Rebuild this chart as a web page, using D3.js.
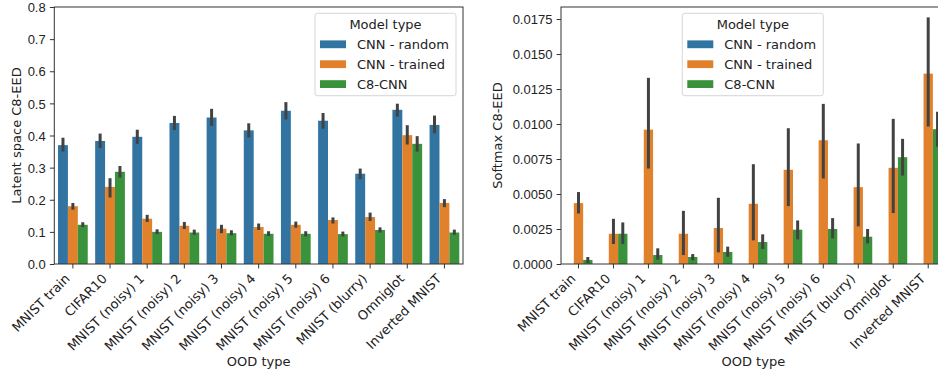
<!DOCTYPE html>
<html>
<head>
<meta charset="utf-8">
<script src="https://cdn.jsdelivr.net/npm/d3@7"></script>
<style>
  body { margin: 0; background: #fff; }
  svg { display: block; font-family: "DejaVu Sans", sans-serif; }
  .tick text { font-size: 13px; fill: #222; }
</style>
</head>
<body>
<svg id="chart" width="938" height="377"></svg>
<script>
// categories and hue levels
const categories = ["MNIST train", "CIFAR10", "MNIST (noisy) 1", "MNIST (noisy) 2", "MNIST (noisy) 3",
  "MNIST (noisy) 4", "MNIST (noisy) 5", "MNIST (noisy) 6", "MNIST (blurry)", "Omniglot", "Inverted MNIST"];
const models = ["CNN - random", "CNN - trained", "C8-CNN"];
const colors = ["#3274a1", "#e1812c", "#3a923a"];

// latent space C8-EED (means + CI)
const latentRandom = [0.370, 0.383, 0.396, 0.439, 0.456, 0.416, 0.477, 0.446, 0.281, 0.480, 0.433];
const latentRandomCI = [[0.350, 0.393], [0.361, 0.406], [0.374, 0.418], [0.417, 0.461], [0.430, 0.483],
  [0.394, 0.438], [0.450, 0.504], [0.421, 0.470], [0.264, 0.297], [0.459, 0.499], [0.407, 0.462]];
const latentTrained = [0.180, 0.240, 0.141, 0.119, 0.110, 0.115, 0.122, 0.137, 0.146, 0.401, 0.190];
const latentTrainedCI = [[0.169, 0.190], [0.207, 0.267], [0.131, 0.153], [0.109, 0.131], [0.096, 0.122],
  [0.106, 0.126], [0.113, 0.132], [0.126, 0.145], [0.134, 0.160], [0.372, 0.432], [0.177, 0.202]];
const latentC8 = [0.122, 0.287, 0.100, 0.098, 0.096, 0.094, 0.094, 0.093, 0.106, 0.374, 0.098];
const latentC8CI = [[0.115, 0.130], [0.269, 0.305], [0.093, 0.108], [0.091, 0.107], [0.089, 0.105],
  [0.087, 0.102], [0.086, 0.102], [0.086, 0.101], [0.098, 0.114], [0.350, 0.398], [0.091, 0.107]];

// softmax C8-EED (means + CI)
const softRandom = [0, 0, 0, 0, 0, 0, 0, 0, 0, 0, 0];
const softRandomCI = [[0, 0], [0, 0], [0, 0], [0, 0], [0, 0], [0, 0], [0, 0], [0, 0], [0, 0], [0, 0], [0, 0]];
const softTrained = [0.00435, 0.00216, 0.0096, 0.00216, 0.00257, 0.0043, 0.00673, 0.00884, 0.00549, 0.00687, 0.0136];
const softTrainedCI = [[0.00361, 0.00514], [0.00143, 0.00323], [0.00682, 0.0133], [0.00064, 0.0038],
  [0.00083, 0.00473], [0.00169, 0.00713], [0.00414, 0.0097], [0.00611, 0.01144], [0.00269, 0.00861],
  [0.00364, 0.01037], [0.00982, 0.01762]];
const softC8 = [0.00029, 0.00216, 0.00064, 0.0005, 0.00086, 0.00157, 0.00245, 0.0025, 0.00195, 0.00763, 0.00963];
const softC8CI = [[0.00007, 0.0005], [0.00143, 0.00297], [0.00031, 0.00112], [0.00026, 0.00071],
  [0.00052, 0.00124], [0.00107, 0.00212], [0.00176, 0.00311], [0.00183, 0.00328], [0.00147, 0.0025],
  [0.00632, 0.00894], [0.00837, 0.01087]];

const latentTicks = [0, 0.1, 0.2, 0.3, 0.4, 0.5, 0.6, 0.7, 0.8];
const softTicks = [0, 0.0025, 0.005, 0.0075, 0.01, 0.0125, 0.015, 0.0175];

function rows(means, cis) {
  // flatten into one row per bar
  const out = [];
  categories.forEach((c, i) => {
    models.forEach((m, j) => {
      out.push({ cat: c, model: m, j: j, v: means[j][i], lo: cis[j][i][0], hi: cis[j][i][1] });
    });
  });
  return out;
}

const svg = d3.select("#chart");

function panel(opts) {
  const g = svg.append("g");
  const x = d3.scaleBand().domain(categories).range([opts.left, opts.right]).padding(0);
  const bw = x.bandwidth();
  const hue = d3.scaleBand().domain(models).range([0.1 * bw, 0.9 * bw]).padding(0);
  const y = d3.scaleLinear().domain(opts.domain).range([opts.bottom, opts.top]);

  const data = rows(opts.means, opts.cis);

  g.selectAll(".bar")
    .data(data)
    .join("rect")
    .attr("class", "bar")
    .attr("x", d => x(d.cat) + hue(d.model))
    .attr("width", hue.bandwidth())
    .attr("y", d => y(d.v))
    .attr("height", d => y(0) - y(d.v))
    .attr("fill", d => colors[d.j]);

  g.selectAll(".err")
    .data(data.filter(d => d.hi > d.lo))
    .join("line")
    .attr("class", "err")
    .attr("x1", d => x(d.cat) + hue(d.model) + hue.bandwidth() / 2)
    .attr("x2", d => x(d.cat) + hue(d.model) + hue.bandwidth() / 2)
    .attr("y1", d => y(d.lo))
    .attr("y2", d => y(d.hi))
    .attr("stroke", "#424242")
    .attr("stroke-width", 3);

  // y axis
  const yAxis = d3.axisLeft(y).tickValues(opts.ticks).tickFormat(opts.fmt).tickSize(4.4).tickPadding(4.2);
  const ya = g.append("g").attr("transform", `translate(${opts.left},0)`).call(yAxis);
  ya.select(".domain").remove();
  ya.selectAll(".tick line").attr("stroke", "#333");
  ya.selectAll(".tick text").attr("dy", "0.36em");

  // x axis
  const xAxis = d3.axisBottom(x).tickSize(4.4).tickFormat("");
  const xa = g.append("g").attr("transform", `translate(0,${opts.bottom})`).call(xAxis);
  xa.select(".domain").remove();
  xa.selectAll(".tick line").attr("stroke", "#333");

  // rotated tick labels
  g.selectAll(".xlab")
    .data(categories)
    .join("text")
    .attr("class", "xlab")
    .attr("text-anchor", "end")
    .attr("font-size", 13)
    .attr("fill", "#222")
    .attr("transform", d => `translate(${x(d) + bw / 2 - 2.2},${opts.bottom + 15.5}) rotate(-45)`)
    .text(d => d);

  // spines
  g.append("rect")
    .attr("x", opts.left).attr("y", opts.top)
    .attr("width", opts.right - opts.left).attr("height", opts.bottom - opts.top)
    .attr("fill", "none").attr("stroke", "#333").attr("stroke-width", 1);

  // axis labels
  g.append("text")
    .attr("x", (opts.left + opts.right) / 2 + opts.xlabShift)
    .attr("y", 365.5)
    .attr("text-anchor", "middle")
    .attr("font-size", 13).attr("fill", "#222")
    .text("OOD type");
  g.append("text")
    .attr("transform", `translate(${opts.ylabX},${(opts.top + opts.bottom) / 2}) rotate(-90)`)
    .attr("text-anchor", "middle")
    .attr("font-size", 13).attr("fill", "#222")
    .text(opts.ylabel);

  // legend
  const L = opts.legend;
  const lg = g.append("g");
  lg.append("rect")
    .attr("x", L.x).attr("y", 13.3).attr("width", L.w).attr("height", 82.4)
    .attr("rx", 2.5)
    .attr("fill", "#fff").attr("fill-opacity", 0.8)
    .attr("stroke", "#d6d6d6").attr("stroke-width", 1);
  lg.append("text")
    .attr("x", L.x + L.w / 2).attr("y", 29)
    .attr("text-anchor", "middle")
    .attr("font-size", 13).attr("fill", "#222")
    .text("Model type");
  models.forEach((m, j) => {
    const cy = 44.3 + j * 19.9;
    lg.append("rect")
      .attr("x", L.x + 5).attr("y", cy - 3.9)
      .attr("width", 26).attr("height", 7.8)
      .attr("fill", colors[j]);
    lg.append("text")
      .attr("x", L.x + 42).attr("y", cy + 4.6)
      .attr("font-size", 13).attr("fill", "#222")
      .text(m);
  });
}

panel({
  left: 54.3, right: 463, top: 7, bottom: 264,
  domain: [0, 0.8], ticks: latentTicks, fmt: d3.format(".1f"),
  means: [latentRandom, latentTrained, latentC8], cis: [latentRandomCI, latentTrainedCI, latentC8CI],
  ylabel: "Latent space C8-EED", ylabX: 20.5, xlabShift: 0,
  legend: { x: 315, w: 141 }
});

panel({
  left: 561, right: 945.7, top: 7, bottom: 264,
  domain: [0, 0.01836], ticks: softTicks, fmt: d3.format(".4f"),
  means: [softRandom, softTrained, softC8], cis: [softRandomCI, softTrainedCI, softC8CI],
  ylabel: "Softmax C8-EED", ylabX: 501.5, xlabShift: 0,
  legend: { x: 682.3, w: 141 }
});
</script>
</body>
</html>
